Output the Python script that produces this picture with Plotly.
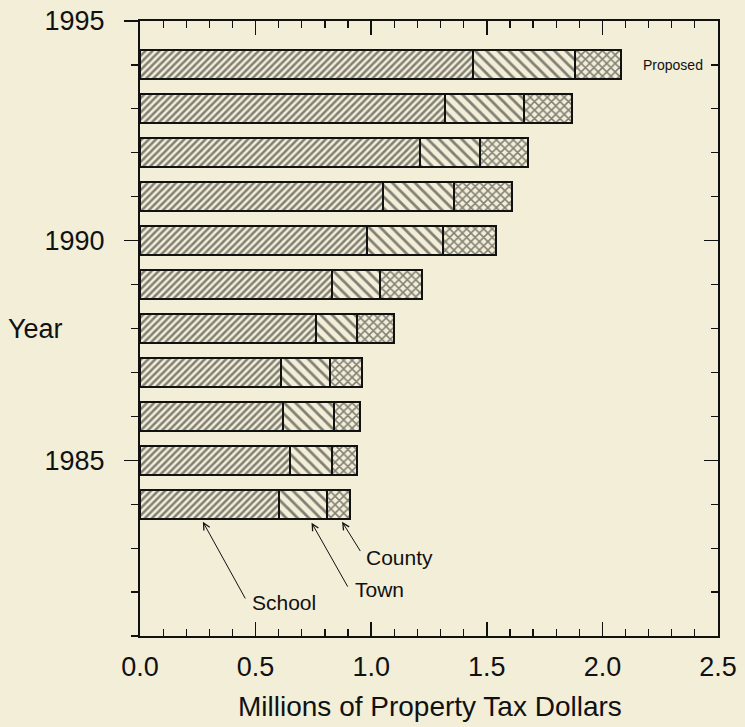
import plotly.graph_objects as go

# ---- data (millions of property tax dollars) ----
years = [1984, 1985, 1986, 1987, 1988, 1989, 1990, 1991, 1992, 1993, 1994]
school = [0.60, 0.65, 0.62, 0.61, 0.76, 0.83, 0.98, 1.05, 1.21, 1.32, 1.44]
town = [0.21, 0.18, 0.22, 0.21, 0.18, 0.21, 0.33, 0.31, 0.26, 0.34, 0.44]
county = [0.10, 0.11, 0.11, 0.14, 0.16, 0.18, 0.23, 0.25, 0.21, 0.21, 0.20]
series_names = ["School", "Town", "County"]
x_ticks = [0.0, 0.5, 1.0, 1.5, 2.0, 2.5]
y_ticks = [1985, 1990, 1995]

BG = "#F2EED8"
INK = "#111111"
FONT = "Liberation Sans, Arial, Helvetica, sans-serif"

patterns = {"School": ("/", 5, 0.5), "Town": ("\\", 8, 0.35), "County": ("x", 6, 0.45)}

fig = go.Figure()
for name, vals in zip(series_names, [school, town, county]):
    shape, size, sol = patterns[name]
    fig.add_trace(go.Bar(
        y=years, x=vals, orientation="h", name=name, width=0.66,
        marker=dict(color=BG, line=dict(color=INK, width=2),
                    pattern=dict(shape=shape, size=size, solidity=sol,
                                 fgcolor=INK, bgcolor=BG, fillmode="overlay")),
        showlegend=False, hoverinfo="skip",
    ))

# empty trace to create the mirrored top/right axes
fig.add_trace(go.Scatter(x=[], y=[], xaxis="x2", yaxis="y2", showlegend=False))

common_x = dict(range=[0, 2.5], tickvals=x_ticks, showgrid=False, zeroline=False,
                showline=True, linecolor=INK, linewidth=2, ticklen=14, tickwidth=1.5,
                tickcolor=INK, ticks="inside", automargin=False,
                minor=dict(dtick=0.1, tick0=0, ticklen=7, tickwidth=1.2, tickcolor=INK, ticks="inside"))
common_y = dict(range=[1981, 1995], tickvals=y_ticks, showgrid=False, zeroline=False,
                showline=True, linecolor=INK, linewidth=2, ticklen=14, tickwidth=1.5,
                tickcolor=INK, automargin=False)

fig.update_layout(
    width=745, height=727,
    margin=dict(l=140, r=27, t=21, b=91, autoexpand=False),
    paper_bgcolor=BG, plot_bgcolor=BG,
    barmode="stack", bargap=0.3,
    font=dict(family=FONT, size=27, color=INK),
    xaxis=dict(**common_x, side="bottom", tickformat=".1f", ticklabelstandoff=6,
               tickfont=dict(size=27)),
    xaxis2=dict(**common_x, side="top", overlaying="x", showticklabels=False),
    yaxis=dict(**common_y, side="left", ticks="outside", ticklabelstandoff=14,
               tickfont=dict(size=27),
               minor=dict(dtick=1, tick0=1981, ticklen=7, tickwidth=1.2, tickcolor=INK,
                          ticks="outside")),
    yaxis2=dict(**common_y, side="right", overlaying="y", ticks="inside", showticklabels=False,
                minor=dict(dtick=1, tick0=1981, ticklen=7, tickwidth=1.2, tickcolor=INK,
                           ticks="inside")),
)

# axis titles
fig.add_annotation(text="Year", xref="paper", yref="paper", x=-0.18, y=0.50,
                   xanchor="center", yanchor="middle", showarrow=False, font=dict(size=27))
fig.add_annotation(text="Millions of Property Tax Dollars", xref="paper", yref="paper",
                   x=0.502, y=-0.114, xanchor="center", yanchor="middle", showarrow=False,
                   font=dict(size=28))

# "Proposed" label next to the last bar
fig.add_annotation(text="Proposed", x=2.445, y=years[-1], xanchor="right", yanchor="middle",
                   showarrow=False, font=dict(size=14))

# callout arrows for the first bar
callouts = [
    # label, head (x, y), tail (x, y), text pos (x, y)
    ("School", (0.272, 1983.60), (0.459, 1981.82), (0.476, 1981.77)),
    ("Town", (0.742, 1983.58), (0.902, 1982.09), (0.921, 1982.07)),
    ("County", (0.874, 1983.60), (0.957, 1982.90), (0.969, 1982.78)),
]
for label, head, tail, tpos in callouts:
    fig.add_annotation(x=head[0], y=head[1], ax=tail[0], ay=tail[1], xref="x", yref="y",
                       axref="x", ayref="y", text="", showarrow=True, arrowhead=5,
                       arrowsize=1.3, arrowwidth=1, arrowcolor=INK, standoff=0, startstandoff=0)
    fig.add_annotation(text=label, x=tpos[0], y=tpos[1], xref="x", yref="y",
                       xanchor="left", yanchor="middle", showarrow=False, font=dict(size=21))

# remove the default 8px page margin so the figure sits at the window's corner
post = ("document.body.style.margin='0';document.body.style.padding='0';"
        "document.body.style.background='%s';document.body.style.overflow='hidden';" % BG)
fig.write_html("out.html", post_script=post,
               config={"displayModeBar": False, "staticPlot": True})
